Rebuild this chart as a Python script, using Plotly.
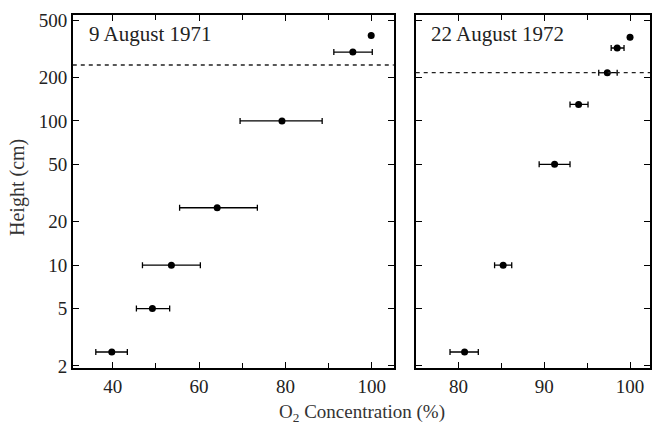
import plotly.graph_objects as go

# ---- data ----
left_height = [2.5, 5, 10, 25, 100, 300, 390]
left_o2 = [39.8, 49.2, 53.6, 64.2, 79.2, 95.6, 99.85]
left_err_plus = [3.6, 4.0, 6.7, 9.3, 9.3, 4.5, 0.0]
left_err_minus = [3.7, 3.7, 6.7, 8.7, 9.7, 4.4, 0.0]
left_title = "9 August 1971"
left_canopy = 244

right_height = [2.5, 10, 50, 130, 216, 320, 380]
right_o2 = [80.7, 85.2, 91.2, 94.0, 97.35, 98.5, 100.0]
right_err_plus = [1.6, 1.0, 1.8, 1.1, 1.15, 0.8, 0.0]
right_err_minus = [1.7, 1.0, 1.8, 1.0, 1.0, 0.7, 0.0]
right_title = "22 August 1972"
right_canopy = 216

y_ticks = [2, 5, 10, 20, 50, 100, 200, 500]
x_title = "O<sub>2</sub> Concentration (%)"
y_title = "Height (cm)"

FONT = "Liberation Serif"
W, H = 652, 424
ML, MT, MB = 0, 15, 56

fig = go.Figure()
for xs, ys, ep, em, xa, ya in [
    (left_o2, left_height, left_err_plus, left_err_minus, "x", "y"),
    (right_o2, right_height, right_err_plus, right_err_minus, "x2", "y2"),
]:
    fig.add_trace(go.Scatter(
        x=xs, y=ys, mode="markers", xaxis=xa, yaxis=ya,
        marker=dict(color="black", size=7),
        error_x=dict(type="data", symmetric=False, array=ep, arrayminus=em,
                     color="black", thickness=1.3, width=3),
        showlegend=False, hoverinfo="skip",
    ))

common_x = dict(showline=True, linecolor="black", linewidth=1.6, mirror="ticks",
                ticks="inside", ticklen=6, tickwidth=1.3, tickcolor="black",
                showgrid=False, zeroline=False,
                tickfont=dict(family=FONT, size=19, color="#222"))
common_y = dict(type="log", range=[0.287, 2.734], tickvals=y_ticks,
                ticktext=[str(v) for v in y_ticks],
                showline=True, linecolor="black", linewidth=1.6, mirror="ticks",
                ticks="inside", ticklen=6, tickwidth=1.3, tickcolor="black",
                showgrid=False, zeroline=False,
                tickfont=dict(family=FONT, size=19, color="#222"))

fig.update_layout(
    width=W, height=H,
    margin=dict(l=ML, r=0, t=MT, b=MB),
    paper_bgcolor="white", plot_bgcolor="white",
    xaxis=dict(domain=[73 / W, 395 / W], range=[30.77, 105.08], dtick=20, tick0=0,
               minor=dict(dtick=10, tick0=0, ticks="inside", ticklen=5, tickcolor="black"),
               anchor="y", **common_x),
    yaxis=dict(domain=[0, 1], anchor="x", **common_y),
    xaxis2=dict(domain=[417 / W, 1.0], range=[75.0, 102.33], dtick=10, tick0=0,
                minor=dict(dtick=5, tick0=0, ticks="inside", ticklen=5, tickcolor="black"),
                anchor="y2", **common_x),
    yaxis2=dict(domain=[0, 1], anchor="x2", showticklabels=False, **common_y),
)

for xref, yref, yv in [("x domain", "y", left_canopy), ("x2 domain", "y2", right_canopy)]:
    fig.add_shape(type="line", xref=xref, yref=yref, x0=0, x1=1, y0=yv, y1=yv,
                  line=dict(color="#222", width=1.4, dash="4px,4px"))

plot_h = H - MT - MB
fig.add_annotation(text=left_title, xref="paper", yref="paper", x=87 / W,
                   y=1 - (34 - MT) / plot_h, xanchor="left", yanchor="middle",
                   showarrow=False, font=dict(family=FONT, size=21, color="#222"))
fig.add_annotation(text=right_title, xref="paper", yref="paper", x=430 / W,
                   y=1 - (34 - MT) / plot_h, xanchor="left", yanchor="middle",
                   showarrow=False, font=dict(family=FONT, size=21, color="#222"))
fig.add_annotation(text=x_title, xref="paper", yref="paper", x=363 / W,
                   y=(368 - 413) / plot_h, xanchor="center", yanchor="middle",
                   showarrow=False, font=dict(family=FONT, size=19, color="#333"))
fig.add_annotation(text=y_title, xref="paper", yref="paper", x=17 / W,
                   y=(368 - 187) / plot_h, xanchor="center", yanchor="middle",
                   textangle=-90, showarrow=False,
                   font=dict(family=FONT, size=20, color="#333"))

fig.write_html("out.html", config={"displayModeBar": False},
               post_script="document.body.style.margin='0';")
